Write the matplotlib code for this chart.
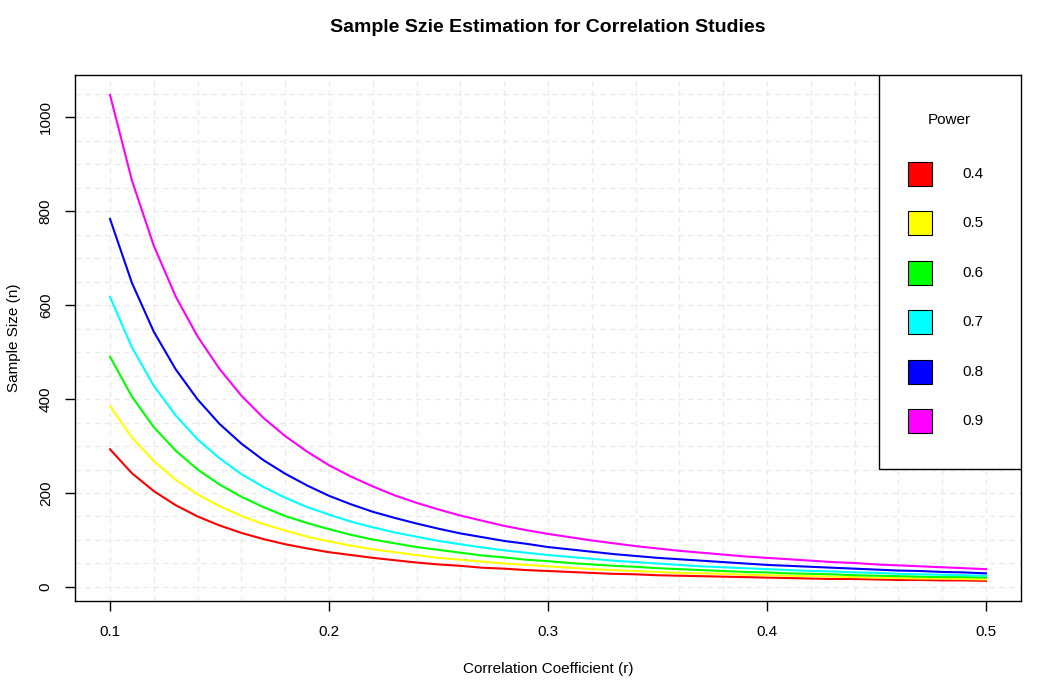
import matplotlib
matplotlib.use("Agg")
import matplotlib.pyplot as plt
from matplotlib.patches import Rectangle

plt.rcParams["font.family"] = ["Liberation Sans", "DejaVu Sans"]

# correlation coefficient grid
r = [0.10, 0.11, 0.12, 0.13, 0.14, 0.15, 0.16, 0.17, 0.18, 0.19,
     0.20, 0.21, 0.22, 0.23, 0.24, 0.25, 0.26, 0.27, 0.28, 0.29,
     0.30, 0.31, 0.32, 0.33, 0.34, 0.35, 0.36, 0.37, 0.38, 0.39,
     0.40, 0.41, 0.42, 0.43, 0.44, 0.45, 0.46, 0.47, 0.48, 0.49, 0.50]

powers = ["0.4", "0.5", "0.6", "0.7", "0.8", "0.9"]
colors = ["#FF0000", "#FFFF00", "#00FF00", "#00FFFF", "#0000FF", "#FF00FF"]

n_04 = [293, 242, 204, 174, 150, 131, 115, 102, 91, 82,
        74, 68, 62, 57, 52, 48, 45, 41, 39, 36,
        34, 32, 30, 28, 27, 25, 24, 23, 22, 21,
        20, 19, 18, 17, 17, 16, 15, 15, 14, 14, 13]
n_05 = [385, 318, 268, 228, 197, 172, 151, 134, 120, 107,
        97, 88, 80, 74, 68, 62, 58, 54, 50, 47,
        44, 41, 38, 36, 34, 32, 30, 29, 28, 26,
        25, 24, 23, 22, 21, 20, 19, 18, 18, 17, 16]
n_06 = [490, 405, 340, 290, 250, 218, 192, 170, 151, 136,
        123, 111, 101, 93, 85, 79, 73, 67, 63, 58,
        55, 51, 48, 45, 43, 40, 38, 36, 34, 32,
        31, 29, 28, 27, 25, 24, 23, 22, 21, 21, 20]
n_07 = [617, 510, 428, 365, 314, 274, 240, 213, 190, 170,
        154, 139, 127, 116, 107, 98, 91, 84, 78, 73,
        68, 64, 60, 56, 53, 50, 47, 44, 42, 40,
        38, 36, 34, 33, 31, 30, 28, 27, 26, 25, 24]
n_08 = [783, 647, 543, 463, 399, 347, 305, 270, 241, 216,
        194, 176, 160, 147, 135, 124, 114, 106, 98, 92,
        85, 80, 75, 70, 66, 62, 59, 56, 53, 50,
        47, 45, 43, 41, 39, 37, 35, 34, 32, 31, 29]
n_09 = [1047, 865, 726, 618, 533, 464, 407, 360, 321, 288,
        259, 235, 214, 195, 179, 165, 152, 141, 130, 121,
        113, 106, 99, 93, 87, 82, 77, 73, 69, 65,
        62, 59, 56, 53, 51, 48, 46, 44, 42, 40, 38]
series = [n_04, n_05, n_06, n_07, n_08, n_09]

x_ticks = [0.1, 0.2, 0.3, 0.4, 0.5]
y_ticks = [0, 200, 400, 600, 800, 1000]
x_grid = [0.10 + 0.02 * i for i in range(21)]
y_grid = [50 * i for i in range(22)]

fig = plt.figure(figsize=(10.43, 6.81), dpi=100)
ax = fig.add_axes([75 / 1043, 80 / 681, 946 / 1043, 526 / 681])

for gx in x_grid:
    ax.axvline(gx, color="#ebebeb", lw=1, ls=(0, (4, 3)), zorder=0)
for gy in y_grid:
    ax.axhline(gy, color="#ebebeb", lw=1, ls=(0, (4, 3)), zorder=0)

for vals, c in zip(series, colors):
    ax.plot(r, vals, color=c, lw=1.5, zorder=2)

ax.set_xlim(0.084, 0.516)
ax.set_ylim(-29.8, 1089.4)
ax.set_xticks(x_ticks)
ax.set_xticklabels([str(t) for t in x_ticks])
ax.set_yticks(y_ticks)
ax.set_yticklabels([str(t) for t in y_ticks], rotation=90, va="center")
ax.tick_params(direction="out", length=7, width=1, labelsize=11, colors="black")
ax.tick_params(axis="x", pad=10)
ax.tick_params(axis="y", pad=9)
for s in ax.spines.values():
    s.set_linewidth(1)
    s.set_color("black")

ax.set_xlabel("Correlation Coefficient (r)", fontsize=11, labelpad=17)
ax.set_ylabel("Sample Size (n)", fontsize=11, labelpad=13)
fig.text(547.5 / 1043, 1 - 27 / 681, "Sample Szie Estimation for Correlation Studies",
         ha="center", va="center", fontsize=14, fontweight="bold")

# legend drawn by hand, like R's legend() box
tr = ax.transAxes
ax.add_patch(Rectangle((0.850, 0.251), 0.150, 0.749, transform=tr,
                       facecolor="white", edgecolor="black", lw=1, zorder=5))
ax.text(0.9245, 0.914, "Power", transform=tr, ha="center", va="center",
        fontsize=11, zorder=6)
ys = [0.812, 0.7186, 0.6236, 0.5304, 0.4354, 0.3422]
for yc, c, lab in zip(ys, colors, powers):
    ax.add_patch(Rectangle((0.8805, yc - 0.0228), 0.0254, 0.0456, transform=tr,
                           facecolor=c, edgecolor="black", lw=0.8, zorder=6))
    ax.text(0.9376, yc, lab, transform=tr, ha="left", va="center",
            fontsize=11, zorder=6)

fig.savefig("out.png", dpi=100)
